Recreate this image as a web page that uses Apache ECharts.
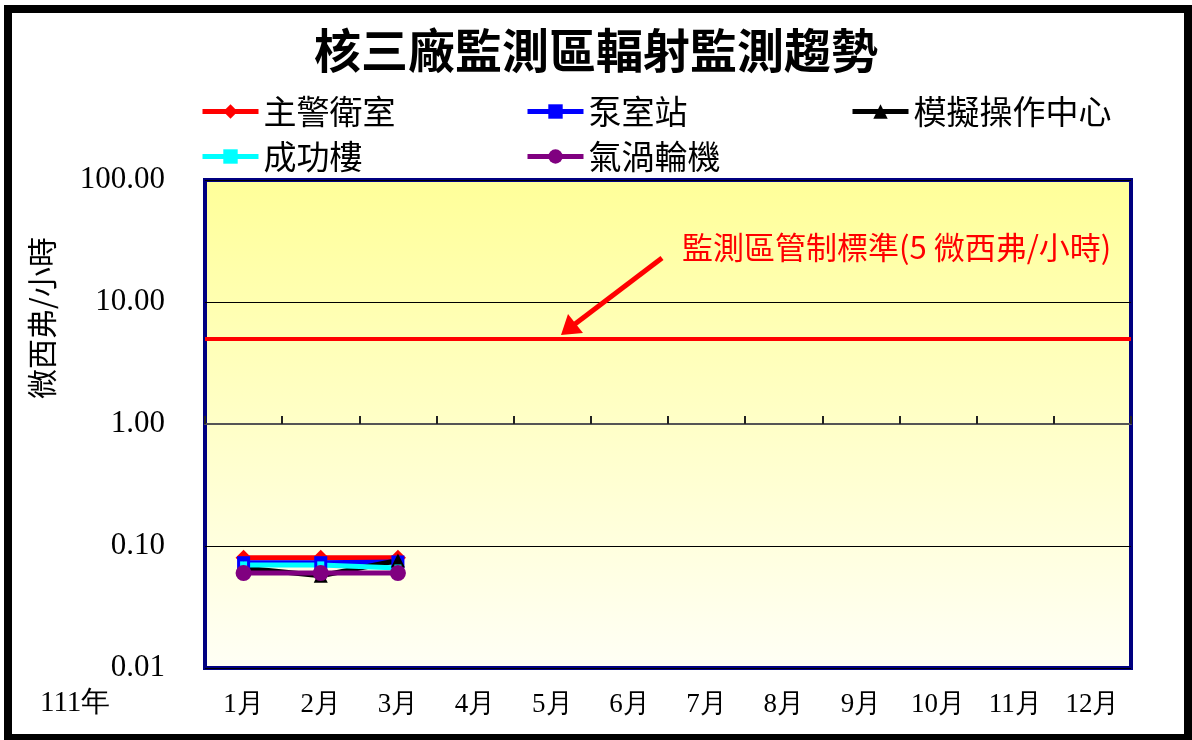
<!DOCTYPE html>
<html><head><meta charset="utf-8">
<script src="https://cdn.jsdelivr.net/npm/echarts@6/dist/echarts.min.js"></script>
<style>html,body{margin:0;padding:0;background:#fff}#c{width:1192px;height:740px}</style>
</head><body><div id="c"></div>
<script>
const months = ['1月','2月','3月','4月','5月','6月','7月','8月','9月','10月','11月','12月'];
const yearLabel = '111年';
const guard = [0.080, 0.080, 0.080];      // 主警衛室
const pump = [0.073, 0.073, 0.074];       // 泵室站
const simCenter = [0.066, 0.057, 0.076];  // 模擬操作中心
const chengGong = [0.070, 0.070, 0.066];  // 成功樓
const turbine = [0.060, 0.060, 0.060];    // 氣渦輪機
const limitValue = 5;
const limitText = '監測區管制標準(5 微西弗/小時)';
const titleText = '核三廠監測區輻射監測趨勢';
const yName = '微西弗/小時';

const cjk = '"Noto Sans CJK TC", "Noto Sans CJK SC", sans-serif';
const serif = '"Liberation Serif", "DejaVu Serif", serif';

function s(name, data, color, symbol, size, extra) {
  return Object.assign({
    name, type: 'line', data, symbol, symbolSize: size,
    lineStyle: {color, width: 5}, itemStyle: {color},
    xAxisIndex: 0, yAxisIndex: 0, animation: false
  }, extra || {});
}

const series = [
  s('主警衛室', guard, '#FF0000', 'diamond', 16, {
    markLine: {
      silent: true, symbol: 'none', animation: false,
      lineStyle: {color: '#FF0000', width: 4, type: 'solid'},
      label: {show: false},
      data: [{yAxis: limitValue}]
    }
  }),
  s('泵室站', pump, '#0000FF', 'rect', 13),
  s('模擬操作中心', simCenter, '#000000', 'triangle', 14),
  s('成功樓', chengGong, '#00FFFF', 'rect', 7),
  s('氣渦輪機', turbine, '#800080', 'circle', 16)
];

const legendPos = [[200,95],[525,95],[850,95],[200,140],[525,140]];
const legends = series.map((se, i) => ({
  data: [se.name], left: legendPos[i][0], top: legendPos[i][1], padding: 0,
  itemWidth: 56, itemHeight: 18, itemGap: 0,
  lineStyle: {width: 5},
  textStyle: {fontFamily: cjk, fontSize: 33, color: '#000', padding: [0,0,0,0]}
}));

const chart = echarts.init(document.getElementById('c'), null, {renderer: 'canvas'});
chart.setOption({
  animation: false,
  backgroundColor: '#fff',
  title: {
    text: titleText, left: 'center', top: 22,
    textStyle: {fontFamily: cjk, fontSize: 47, fontWeight: 'bold', color: '#000'}
  },
  legend: legends,
  grid: {
    left: 205, right: 61, top: 180, bottom: 72, show: true,
    borderColor: '#000080', borderWidth: 4,
    backgroundColor: new echarts.graphic.LinearGradient(0, 0, 0, 1, [
      {offset: 0, color: '#FFFF99'}, {offset: 1, color: '#FFFFF6'}
    ])
  },
  xAxis: [{
    type: 'category', data: months, boundaryGap: true,
    axisLine: {show: false}, axisTick: {show: false},
    axisLabel: {fontFamily: serif, fontSize: 27, color: '#000', margin: 23}
  }, {
    type: 'category', data: months, boundaryGap: true, position: 'bottom',
    offset: -244,
    axisLine: {show: true, lineStyle: {color: '#555', width: 2}},
    axisTick: {show: true, inside: true, length: 8, lineStyle: {color: '#222', width: 2}},
    axisLabel: {show: false}
  }],
  yAxis: {
    type: 'log', logBase: 10, min: 0.01, max: 100,
    axisLine: {show: false}, axisTick: {show: false},
    splitLine: {show: true, lineStyle: {color: '#000', width: 1}},
    axisLabel: {
      fontFamily: serif, fontSize: 31, color: '#000', margin: 40,
      formatter: v => Number(v).toFixed(2)
    }
  },
  series: series,
  graphic: [
    {type: 'rect', left: 4, top: 5, shape: {width: 1180, height: 729},
     style: {fill: 'none', stroke: '#000', lineWidth: 8}, z: 100, silent: true},
    {type: 'text', left: 40, top: 689,
     style: {text: yearLabel, font: '29px ' + serif, fill: '#000'}},
    {type: 'text', x: 42, y: 318, rotation: Math.PI / 2,
     style: {text: yName, font: '30px ' + cjk, fill: '#000', align: 'center', verticalAlign: 'middle'}},
    {type: 'text', left: 682, top: 232, z: 50,
     style: {text: limitText, font: '31px ' + cjk, fill: '#FF0000'}},
    {type: 'line', z: 50, shape: {x1: 662, y1: 258, x2: 575, y2: 324},
     style: {stroke: '#FF0000', lineWidth: 5}},
    {type: 'polygon', z: 50, shape: {points: [[561, 335], [568, 314], [583, 333]]},
     style: {fill: '#FF0000'}}
  ]
});
</script></body></html>
